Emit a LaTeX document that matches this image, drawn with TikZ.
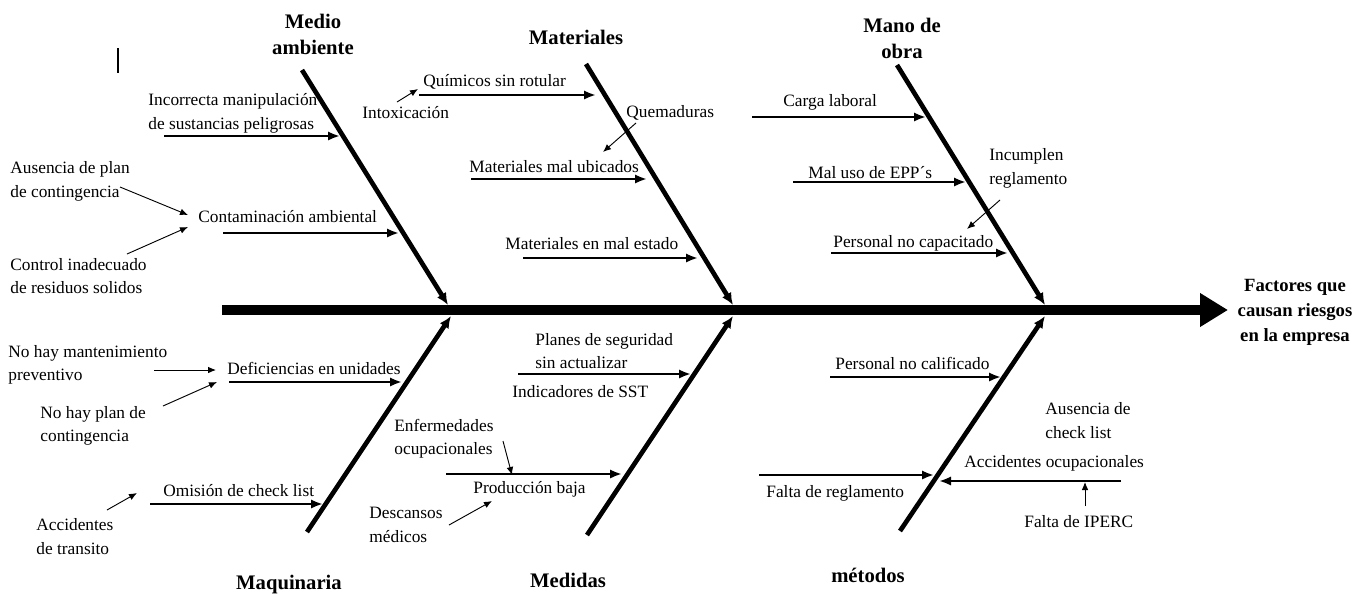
\documentclass[tikz,border=0pt]{standalone}
\usepackage{fontspec}
\setmainfont{Liberation Serif}
\usepackage{tikz}
\usetikzlibrary{arrows,arrows.meta,positioning,calc}

\begin{document}
\begin{tikzpicture}[x=0.75pt, y=-0.75pt, semithick, >=latex']
	\tikzstyle{causa}=[inner sep=0pt, align=left, anchor=west, font=\fontsize{13}{17.5}\selectfont]
	\tikzstyle{titulo}=[inner sep=0pt, align=center, font=\bfseries\fontsize{15.5}{20}\selectfont]
	\tikzstyle{espina}=[line width=8.2pt, -{Triangle[length=21pt,width=24pt]}]
	\tikzstyle{hueso}=[line width=3.5pt, -{Latex[length=9pt,width=8pt]}]
	\tikzstyle{rama}=[line width=2pt, -{Latex[length=9pt,width=7pt]}]
	\tikzstyle{flecha}=[line width=0.7pt, -{Latex[length=6pt,width=5pt]}]
	\useasboundingbox (0,0) rectangle (1368,594);
	
	% efecto y espina
	\node[titulo, font=\bfseries\fontsize{14}{18.7}\selectfont] (EF) at (1295,312) {Factores que\\causan riesgos\\en la empresa};
	\coordinate (E0) at (222,310);
	\coordinate (E1) at (1228,310);
	\draw[espina] (E0) -- (E1);
	
	% categorias
	\node[titulo] (MA) at (313,34.5) {Medio\\ambiente};
	\node[titulo] (MT) at (576,37)   {Materiales};
	\node[titulo] (MO) at (902,38.5) {Mano de\\obra};
	\node[titulo] (MQ) at (289,585)  {Maquinaria};
	\node[titulo] (MD) at (568,580)  {Medidas};
	\node[titulo] (ME) at (868,575)  {métodos};
	
	\coordinate (MA0) at (302,70);  \coordinate (MA1) at (448,305);
	\coordinate (MT0) at (586,64);  \coordinate (MT1) at (733,305);
	\coordinate (MO0) at (897,65);  \coordinate (MO1) at (1045,305);
	\coordinate (MQ0) at (307,532); \coordinate (MQ1) at (451,316);
	\coordinate (MD0) at (587,535); \coordinate (MD1) at (733,316);
	\coordinate (ME0) at (900,531); \coordinate (ME1) at (1045,316);
	\draw[hueso] (MA0) -- (MA1);
	\draw[hueso] (MT0) -- (MT1);
	\draw[hueso] (MO0) -- (MO1);
	\draw[hueso] (MQ0) -- (MQ1);
	\draw[hueso] (MD0) -- (MD1);
	\draw[hueso] (ME0) -- (ME1);
	
	% medio ambiente
	\node[causa] (A)  at (148,113.5) {Incorrecta manipulación\\de sustancias peligrosas};
	\node[causa] (B)  at (198,217)   {Contaminación ambiental};
	\node[causa] (B1) at (10,181.5)  {Ausencia de plan\\de contingencia};
	\node[causa] (B2) at (10,276)    {Control inadecuado\\de residuos solidos};
	\coordinate (a0) at (164,136); \coordinate (a1) at (340,136);
	\coordinate (b0) at (223,233); \coordinate (b1) at (399,233);
	\coordinate (b2) at (120,187); \coordinate (b3) at (188,215);
	\coordinate (b4) at (127,254); \coordinate (b5) at (188,227);
	\draw[rama] (a0) -- (a1);
	\draw[rama] (b0) -- (b1);
	\draw[flecha] (b2) -- (b3);
	\draw[flecha] (b4) -- (b5);
	\coordinate (bar0) at (118,48); \coordinate (bar1) at (118,73);
	\draw[line width=0.8pt] (bar0) -- (bar1);
	
	% materiales
	\node[causa] (C)  at (423,82)  {Químicos sin rotular};
	\node[causa] (C1) at (362,113) {Intoxicación};
	\node[causa] (D)  at (469,167) {Materiales mal ubicados};
	\node[causa] (D1) at (626,113) {Quemaduras};
	\node[causa] (F)  at (505,244) {Materiales en mal estado};
	\coordinate (c0) at (419,95);  \coordinate (c1) at (596,95);
	\coordinate (c2) at (397,102); \coordinate (c3) at (418,89);
	\coordinate (d0) at (471,179); \coordinate (d1) at (647,179);
	\coordinate (d2) at (636,123); \coordinate (d3) at (603,152);
	\coordinate (f0) at (523,258); \coordinate (f1) at (698,258);
	\draw[rama] (c0) -- (c1);
	\draw[flecha] (c2) -- (c3);
	\draw[rama] (d0) -- (d1);
	\draw[flecha] (d2) -- (d3);
	\draw[rama] (f0) -- (f1);
	
	% mano de obra
	\node[causa] (G)  at (783,102)   {Carga laboral};
	\node[causa] (H)  at (808,173)   {Mal uso de EPP´s};
	\node[causa] (H1) at (989,168.5) {Incumplen\\reglamento};
	\node[causa] (I)  at (833,243)   {Personal no capacitado};
	\coordinate (g0) at (752,117);  \coordinate (g1) at (926,117);
	\coordinate (h0) at (793,182);  \coordinate (h1) at (966,182);
	\coordinate (h2) at (1000,200); \coordinate (h3) at (967,229);
	\coordinate (i0) at (831,253);  \coordinate (i1) at (1008,253);
	\draw[rama] (g0) -- (g1);
	\draw[rama] (h0) -- (h1);
	\draw[flecha] (h2) -- (h3);
	\draw[rama] (i0) -- (i1);
	
	% maquinaria
	\node[causa] (J)  at (227,368)   {Deficiencias en unidades};
	\node[causa] (J1) at (8,364.5)   {No hay mantenimiento\\preventivo};
	\node[causa] (J2) at (40,426)    {No hay plan de\\contingencia};
	\node[causa] (K)  at (163,491)   {Omisión de check list};
	\node[causa] (K1) at (36,536.5)  {Accidentes\\de transito};
	\coordinate (j0) at (229,382); \coordinate (j1) at (402,382);
	\coordinate (j2) at (154,370); \coordinate (j3) at (216,370);
	\coordinate (j4) at (163,406); \coordinate (j5) at (217,382);
	\coordinate (k0) at (150,504); \coordinate (k1) at (323,504);
	\coordinate (k2) at (107,510); \coordinate (k3) at (137,493);
	\draw[rama] (j0) -- (j1);
	\draw[flecha] (j2) -- (j3);
	\draw[flecha] (j4) -- (j5);
	\draw[rama] (k0) -- (k1);
	\draw[flecha] (k2) -- (k3);
	
	% medidas
	\node[causa] (L)  at (535,351)   {Planes de seguridad\\sin actualizar};
	\node[causa] (L1) at (512,392)   {Indicadores de SST};
	\node[causa] (M)  at (473,489)   {Producción baja};
	\node[causa] (M1) at (394,438.5) {Enfermedades\\ocupacionales};
	\node[causa] (M2) at (369,525)   {Descansos\\médicos};
	\coordinate (l0) at (518,374); \coordinate (l1) at (691,374);
	\coordinate (m0) at (446,474); \coordinate (m1) at (622,474);
	\coordinate (m2) at (503,441); \coordinate (m3) at (512,475);
	\coordinate (m4) at (449,525); \coordinate (m5) at (492,501);
	\draw[rama] (l0) -- (l1);
	\draw[rama] (m0) -- (m1);
	\draw[flecha] (m2) -- (m3);
	\draw[flecha] (m4) -- (m5);
	
	% metodos
	\node[causa] (N)  at (835,363)   {Personal no calificado};
	\node[causa] (O)  at (766,493)   {Falta de reglamento};
	\node[causa] (P)  at (964,463)   {Accidentes ocupacionales};
	\node[causa] (P1) at (1045,420.5){Ausencia de\\check list};
	\node[causa] (P2) at (1024,522)  {Falta de IPERC};
	\coordinate (n0) at (830,377);  \coordinate (n1) at (1001,377);
	\coordinate (o0) at (759,475);  \coordinate (o1) at (934,475);
	\coordinate (p0) at (1121,481); \coordinate (p1) at (939,481);
	\coordinate (p2) at (1085,506); \coordinate (p3) at (1085,482);
	\draw[rama] (n0) -- (n1);
	\draw[rama] (o0) -- (o1);
	\draw[rama] (p0) -- (p1);
	\draw[flecha] (p2) -- (p3);
\end{tikzpicture}
\end{document}
